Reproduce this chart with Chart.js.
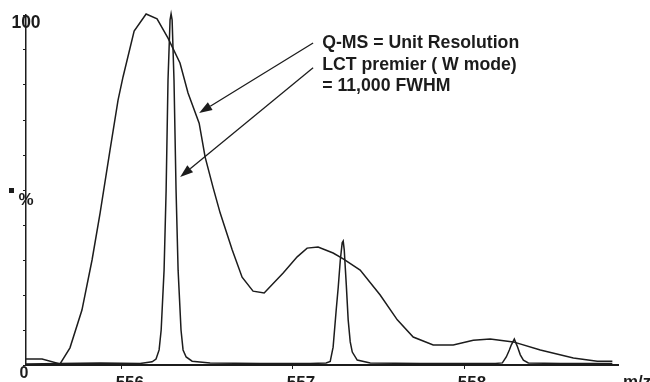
<!DOCTYPE html>
<html>
<head>
<meta charset="utf-8">
<script src="https://cdn.jsdelivr.net/npm/chart.js@4/dist/chart.umd.min.js"></script>
<style>
  html, body { margin: 0; padding: 0; background: #fff; }
  #wrap { position: relative; width: 650px; height: 382px; }
</style>
</head>
<body>
<div id="wrap"><canvas id="ms"></canvas></div>
<script>
// Q-MS (unit resolution) trace, m/z vs relative intensity (%)
var qmsMz = [555.440, 555.534, 555.639, 555.697, 555.767, 555.826, 555.873, 555.931, 555.978, 556.007,
  556.072, 556.142, 556.206, 556.270, 556.340, 556.387, 556.452, 556.487, 556.534, 556.575,
  556.645, 556.703, 556.767, 556.832, 556.943, 557.025, 557.083, 557.147, 557.235, 557.294,
  557.393, 557.510, 557.610, 557.703, 557.820, 557.937, 558.054, 558.153, 558.288, 558.446,
  558.639, 558.779, 558.867];
var qmsInt = [1.7, 1.7, 0.3, 4.9, 15.7, 30.0, 43.4, 61.4, 75.7, 82.3,
  95.4, 100.3, 98.9, 93.4, 86.3, 77.7, 69.1, 59.4, 50.6, 43.4,
  32.9, 25.1, 21.1, 20.6, 26.3, 30.9, 33.4, 33.7, 32.0, 30.3,
  27.1, 20.0, 12.9, 8.0, 5.7, 5.7, 7.1, 7.4, 6.6, 4.3,
  2.0, 1.1, 1.1];

// LCT premier (W mode, 11,000 FWHM) trace
var lctMz = [555.440, 555.639, 555.873, 556.107, 556.177, 556.200, 556.218, 556.230, 556.247, 556.259,
  556.270, 556.282, 556.288, 556.294, 556.305, 556.317, 556.329, 556.346, 556.358, 556.376,
  556.411, 556.516, 556.808, 557.101, 557.194, 557.218, 557.235, 557.253, 557.265, 557.277,
  557.288, 557.294, 557.300, 557.312, 557.323, 557.335, 557.347, 557.376, 557.452, 557.744,
  558.183, 558.224, 558.247, 558.265, 558.276, 558.294, 558.311, 558.329, 558.347, 558.376,
  558.563, 558.867];
var lctInt = [0.3, 0.4, 0.6, 0.4, 0.9, 1.7, 4.3, 10.0, 27.1, 50.0,
  81.4, 98.6, 100.3, 98.6, 81.4, 50.0, 27.1, 10.0, 4.3, 2.3,
  1.1, 0.6, 0.4, 0.4, 0.6, 1.0, 5.1, 15.7, 22.3, 30.0,
  34.9, 35.4, 32.9, 22.9, 12.9, 6.6, 3.7, 1.4, 0.6, 0.4,
  0.4, 0.6, 2.3, 4.3, 5.7, 7.4, 5.4, 2.9, 1.4, 0.6,
  0.4, 0.4];

var xTicks = [556, 557, 558];
var xMin = 555.44, xMax = 558.9;

var INK = '#1c1c1c';
var FONT = 'Liberation Sans, Arial, sans-serif';

function toPoints(xs, ys) {
  return xs.map(function(x, i) { return { x: x, y: ys[i] }; });
}

// ── Annotation overlay ───────────────────────────────────────────────────────
// Axis captions ("100", "0", "%", "m/z") and the two labelled arrows.
// Arrow ends are in data units so they follow the scales.
var arrows = [
  { from: [557.118, 92.0], to: [556.452, 72.0] },
  { from: [557.118, 84.9], to: [556.341, 53.7] }
];
var noteAt = [557.171, 90.6];

function drawArrow(ctx, x1, y1, x2, y2) {
  var a = Math.atan2(y2 - y1, x2 - x1), len = 13, hw = 4.5;
  var bx = x2 - Math.cos(a) * len, by = y2 - Math.sin(a) * len;
  ctx.beginPath();
  ctx.moveTo(x1, y1);
  ctx.lineTo(bx, by);
  ctx.stroke();
  ctx.beginPath();
  ctx.moveTo(x2, y2);
  ctx.lineTo(bx - Math.sin(a) * hw, by + Math.cos(a) * hw);
  ctx.lineTo(bx + Math.sin(a) * hw, by - Math.cos(a) * hw);
  ctx.closePath();
  ctx.fill();
}

var overlay = {
  id: 'overlay',
  afterDraw: function(chart) {
    var ctx = chart.ctx, xs = chart.scales.x, ys = chart.scales.y, ca = chart.chartArea;
    ctx.save();
    ctx.fillStyle = INK;
    ctx.strokeStyle = INK;
    ctx.lineWidth = 1.3;

    ctx.font = 'bold 17.5px ' + FONT;
    ctx.textAlign = 'center';
    ctx.textBaseline = 'alphabetic';
    ctx.fillText('100', ca.left, ca.top + 13);
    ctx.font = 'bold 16px ' + FONT;
    ctx.fillText('0', ca.left - 2, ca.bottom + 13);
    ctx.font = 'bold 17px ' + FONT;
    ctx.fillText('%', ca.left, 205);
    ctx.fillRect(9, 188, 5, 5);
    ctx.textAlign = 'left';
    ctx.fillText('m/z', ca.right + 5, ca.bottom + 22);

    arrows.forEach(function(ar) {
      drawArrow(ctx, xs.getPixelForValue(ar.from[0]), ys.getPixelForValue(ar.from[1]),
        xs.getPixelForValue(ar.to[0]), ys.getPixelForValue(ar.to[1]));
    });

    ctx.font = 'bold 17.7px ' + FONT;
    var tx = xs.getPixelForValue(noteAt[0]), ty = ys.getPixelForValue(noteAt[1]);
    ctx.fillText('Q-MS = Unit Resolution', tx, ty);
    ctx.fillText('LCT premier ( W mode)', tx, ty + 22);
    ctx.fillText('= 11,000 FWHM', tx, ty + 43);
    ctx.restore();
  }
};

new Chart(document.getElementById('ms'), {
  type: 'line',
  data: {
    datasets: [
      { label: 'Q-MS', data: toPoints(qmsMz, qmsInt), borderColor: INK, borderWidth: 1.5,
        pointRadius: 0, tension: 0, fill: false, clip: false },
      { label: 'LCT premier', data: toPoints(lctMz, lctInt), borderColor: INK, borderWidth: 1.5,
        pointRadius: 0, tension: 0, fill: false, clip: false }
    ]
  },
  options: {
    responsive: true, maintainAspectRatio: false, animation: false,
    layout: { padding: { left: 23, right: 32, top: 15, bottom: 0 } },
    plugins: { legend: { display: false }, tooltip: { enabled: false } },
    scales: {
      x: {
        type: 'linear', min: xMin, max: xMax,
        afterBuildTicks: function(s) { s.ticks = xTicks.map(function(v) { return { value: v }; }); },
        afterFit: function(s) { s.height = 17; },
        grid: { drawOnChartArea: false, drawTicks: true, tickLength: 4, color: INK, lineWidth: 1 },
        border: { display: true, color: INK, width: 2 },
        ticks: { color: INK, font: { family: FONT, size: 17, weight: 'bold' }, padding: 4,
          labelOffset: 8, maxRotation: 0, autoSkip: false }
      },
      y: {
        min: 0, max: 100,
        afterFit: function(s) { s.width = 3; },
        grid: { drawOnChartArea: false, drawTicks: true, tickLength: 3, color: INK, lineWidth: 1 },
        border: { display: true, color: INK, width: 1.5 },
        ticks: { stepSize: 10, callback: function() { return ''; }, padding: 0 }
      }
    }
  },
  plugins: [overlay]
});
</script>
</body>
</html>
